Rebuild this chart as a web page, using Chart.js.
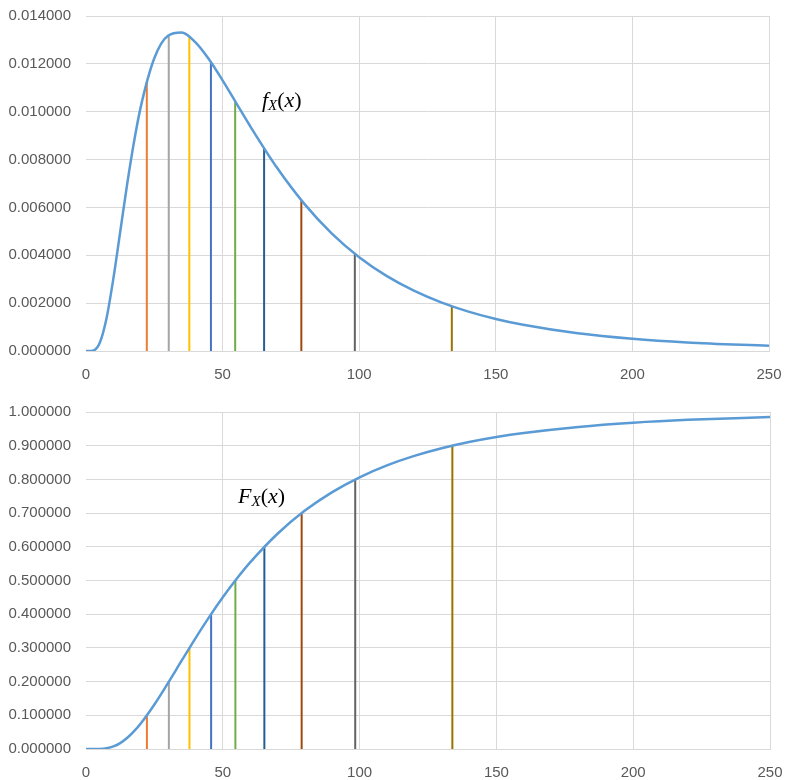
<!DOCTYPE html>
<html>
<head>
<meta charset="utf-8">
<script src="https://cdn.jsdelivr.net/npm/chart.js@4/dist/chart.umd.min.js"></script>
<style>
  html, body { margin: 0; padding: 0; background: #fff; }
  .box { position: relative; width: 788px; }
</style>
</head>
<body>
<div class="box" style="height:380px"><canvas id="pdfChart"></canvas></div>
<div class="box" style="height:400px"><canvas id="cdfChart"></canvas></div>
<script>
// x values where the curves were read
const xValues = [0, 2.5, 5, 7.5, 10, 12.5, 15, 17.5, 20, 25, 30, 35, 40, 45, 50, 55, 60, 70, 80, 90, 100, 110, 120, 130, 140, 150, 160, 180, 200, 220, 250];
// density f_X(x)
const pdfValues = [0, 0.000014, 0.000335, 0.001362, 0.003013, 0.004962, 0.006920, 0.008690, 0.010182, 0.012233, 0.013177, 0.013309, 0.012908, 0.012191, 0.011309, 0.010361, 0.009413, 0.007645, 0.006138, 0.004908, 0.003922, 0.003140, 0.002522, 0.002034, 0.001647, 0.001340, 0.001095, 0.000741, 0.000510, 0.000357, 0.000215];
// cumulative F_X(x)
const cdfValues = [0, 0.00001, 0.00032, 0.00228, 0.00766, 0.0176, 0.0325, 0.0521, 0.0757, 0.1322, 0.1962, 0.2627, 0.3284, 0.3912, 0.4500, 0.5042, 0.5536, 0.6387, 0.7074, 0.7624, 0.8063, 0.8415, 0.8697, 0.8924, 0.9107, 0.9256, 0.9377, 0.9558, 0.9682, 0.9768, 0.9851];

// decile markers
const decileX = [22.26, 30.29, 37.82, 45.73, 54.60, 65.19, 78.82, 98.40, 133.9];
const decilePdf = [0.01126, 0.013204, 0.013133, 0.012069, 0.010438, 0.008466, 0.006301, 0.004065, 0.001872];
const decileCdf = [0.1, 0.2, 0.3, 0.4, 0.5, 0.6, 0.7, 0.8, 0.9];
const decileColors = ['#ED7D31', '#A5A5A5', '#FFC000', '#4472C4', '#70AD47', '#255E91', '#9E480E', '#636363', '#997300'];

const curveColor = '#5B9BD5';
const gridColor = '#D9D9D9';
const tickColor = '#595959';
const tickFont = { family: 'Liberation Sans, Arial, sans-serif', size: 15 };

function buildDatasets(values, decileValues) {
    const sets = [{
        data: xValues.map((x, i) => ({ x: x, y: values[i] })),
        borderColor: curveColor,
        borderWidth: 2.5,
        pointRadius: 0,
        cubicInterpolationMode: 'monotone',
        fill: false
    }];
    decileX.forEach((x, i) => {
        sets.push({
            data: [{ x: x, y: 0 }, { x: x, y: decileValues[i] }],
            borderColor: decileColors[i],
            borderWidth: 2,
            pointRadius: 0,
            fill: false
        });
    });
    return sets;
}

// italic serif label like f_X(x)
const labelPlugin = {
    id: 'curveLabel',
    afterDatasetsDraw(chart, args, opts) {
        const ctx = chart.ctx;
        let px = chart.scales.x.getPixelForValue(opts.x);
        const py = chart.scales.y.getPixelForValue(opts.y);
        ctx.save();
        ctx.fillStyle = '#000';
        ctx.textBaseline = 'alphabetic';
        ctx.textAlign = 'left';
        const serif = '"Liberation Serif", "Times New Roman", serif';
        const parts = [
            [opts.name, 'italic 22px ' + serif, 0],
            ['X', 'italic 15px ' + serif, 3],
            ['(', '22px ' + serif, 0],
            ['x', 'italic 22px ' + serif, 0],
            [')', '22px ' + serif, 0]
        ];
        parts.forEach(([t, f, dy]) => {
            ctx.font = f;
            ctx.fillText(t, px, py + dy);
            px += ctx.measureText(t).width;
        });
        ctx.restore();
    }
};

function makeChart(id, values, decileValues, yMax, yStep, pad, axisHeight, label) {
    const ctx = document.getElementById(id).getContext('2d');
    return new Chart(ctx, {
        type: 'line',
        data: { datasets: buildDatasets(values, decileValues) },
        options: {
            responsive: true,
            maintainAspectRatio: false,
            animation: false,
            layout: { padding: pad },
            plugins: {
                legend: { display: false },
                tooltip: { enabled: false },
                curveLabel: label
            },
            scales: {
                x: {
                    type: 'linear',
                    min: 0,
                    max: 250,
                    ticks: { stepSize: 50, color: tickColor, font: tickFont, padding: 15 },
                    grid: {
                        color: c => c.tick && c.tick.value === 0 ? 'rgba(0,0,0,0)' : gridColor,
                        drawTicks: false
                    },
                    border: { display: true, color: gridColor, width: 1 },
                    afterFit: s => {
                        s.height = axisHeight;
                        s.paddingLeft = 0;
                        s.paddingRight = 0;
                    }
                },
                y: {
                    min: 0,
                    max: yMax,
                    ticks: {
                        stepSize: yStep,
                        color: tickColor,
                        font: tickFont,
                        padding: 15,
                        callback: v => Number(v).toFixed(6)
                    },
                    grid: { color: gridColor, drawTicks: false },
                    border: { display: false },
                    afterFit: s => {
                        s.width = 86;
                        s.paddingTop = 0;
                        s.paddingBottom = 0;
                    }
                }
            }
        },
        plugins: [labelPlugin]
    });
}

makeChart('pdfChart', pdfValues, decilePdf, 0.014, 0.002,
    { top: 16, right: 19, bottom: 0, left: 0 }, 29,
    { name: 'f', x: 64.4, y: 0.0102 });
makeChart('cdfChart', cdfValues, decileCdf, 1.0, 0.1,
    { top: 32, right: 18, bottom: 0, left: 0 }, 31,
    { name: 'F', x: 55.6, y: 0.73 });
</script>
</body>
</html>
